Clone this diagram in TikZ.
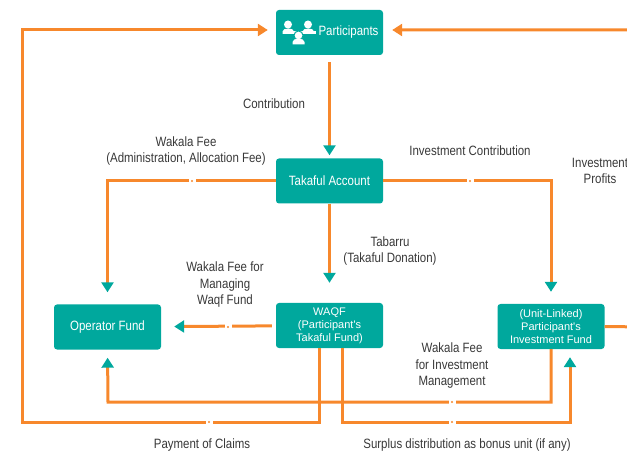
\documentclass[tikz,border=0pt]{standalone}
\usepackage{fontspec}
\setmainfont{Liberation Sans}[FakeStretch=0.85]
\newfontfamily\boxfont{Liberation Sans}
\usetikzlibrary{arrows.meta}
\definecolor{tkteal}{RGB}{0,168,157}
\definecolor{tkorange}{RGB}{247,136,44}
\begin{document}
\begin{tikzpicture}[x=1pt,y=-1pt,
  box/.style={fill=tkteal,rounded corners=3pt,minimum width=107pt,minimum height=45pt,
    inner sep=0pt,text=white,font=\fontsize{13.5}{16}\selectfont},
  smallbox/.style={box,align=center,font=\boxfont\fontsize{11}{13}\selectfont},
  lbl/.style={text=black!78,align=center,font=\fontsize{13.5}{16.5}\selectfont},
  flow/.style={draw=tkorange,line width=3pt,-{Triangle[width=12pt,length=10pt,color=tkteal]}},
  back/.style={flow,-{Triangle[width=12pt,length=10pt,color=tkorange]}},
  brk/.style={fill=white,inner sep=0pt,minimum width=7pt,minimum height=5pt,
    path picture={\fill[tkorange] (path picture bounding box.center) circle (1.1pt);}}]
\useasboundingbox (0,0) rectangle (627,457);

% boxes
\node[box] (part) at (329.5,32.5) {\hspace{38pt}Participants};
\node[box] (tak) at (329.5,181) {Takaful Account};
\node[box] (op) at (107.5,327) {Operator Fund};
\node[smallbox] (waqf) at (329.5,325.5) {WAQF\\(Participant's\\Takaful Fund)};
\node[smallbox] (ul) at (551,326.5) {(Unit-Linked)\\Participant's\\Investment Fund};

% participants icon
\begin{scope}[white]
\fill (288,24.5) circle (4);
\fill (308,24.5) circle (4);
\fill (282.5,34) -- (282.5,31.5) .. controls (282.5,27.5) and (294,27.5) .. (294,31.5) -- (294,34) -- cycle;
\fill (302.5,34) -- (302.5,31.5) .. controls (302.5,27.5) and (314,27.5) .. (314,31.5) -- (314,34) -- cycle;
\fill (282.5,31.5) rectangle (316,34);
\filldraw[draw=tkteal,line width=1pt] (298.5,35.5) circle (4.5);
\fill (292.5,44.5) -- (292.5,42) .. controls (292.5,37.5) and (304.5,37.5) .. (304.5,42) -- (304.5,44.5) -- cycle;
\end{scope}

\coordinate (clm) at (22,422);
\coordinate (sur) at (570,422);
\coordinate (fee) at (108,402);
\coordinate (rgt) at (645,327);

% flows
\draw[flow,shorten <=7pt,shorten >=3pt] (part) -- (tak);
\draw[flow,shorten >=12pt] (tak.west) -| (op.north);
\draw[flow,shorten >=12pt] (tak.east) -| (ul.north);
\draw[flow,shorten >=20pt] (tak) -- (waqf);
\draw[flow,shorten <=4pt,shorten >=13pt] (waqf) -- (op);
\draw[flow,shorten >=8pt] (ul.south) |- (fee) -- (op.south);
\draw[back,shorten >=8pt] ([xshift=-10.5pt]waqf.south) |- (clm) |- ([yshift=2.5pt]part.west);
\draw[flow,shorten >=8pt] ([xshift=13pt]waqf.south) |- (sur) -- ([xshift=19pt]ul.south);
\draw[back,shorten >=9pt] (ul.east) -- (rgt) |- ([yshift=2.5pt]part.east);

% breaks
\node[brk] (b1) at (192,181) {};
\node[brk] (b2) at (470,181) {};
\node[brk] (b3) at (228,327) {};
\node[brk] (b4) at (452,402) {};
\node[brk] (b5) at (209,422) {};
\node[brk] (b6) at (452,422) {};

% labels
\node[lbl] (l1) at (274,104) {Contribution};
\node[lbl] (l2) at (186,151) {Wakala Fee\\(Administration, Allocation Fee)};
\node[lbl] (l3) at (470,151) {Investment Contribution};
\node[lbl] (l4) at (600,171) {Investment\\Profits};
\node[lbl] (l5) at (390,251) {Tabarru\\(Takaful Donation)};
\node[lbl] (l6) at (225,285) {Wakala Fee for\\Managing\\Waqf Fund};
\node[lbl] (l7) at (452,366) {Wakala Fee\\for Investment\\Management};
\node[lbl] (l8) at (202,445) {Payment of Claims};
\node[lbl] (l9) at (467,445) {Surplus distribution as bonus unit (if any)};
\end{tikzpicture}
\end{document}
